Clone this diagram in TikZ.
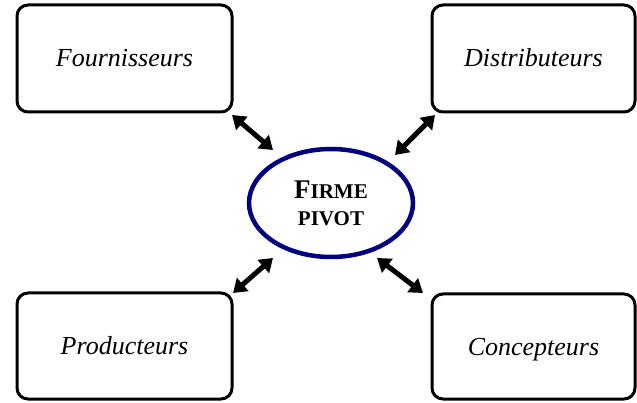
\documentclass[tikz,border=0pt]{standalone}
\usepackage{fontspec}
\setmainfont{Liberation Serif}
\usetikzlibrary{shapes.geometric,arrows.meta}
\definecolor{navyblue}{RGB}{0,0,128}
\tikzset{
  partner/.style={draw=black, line width=3pt, rounded corners=11pt, inner sep=0pt,
    text height=17pt, text depth=-3pt,
    font=\fontsize{26}{28}\selectfont\itshape},
  pivotnode/.style={draw=navyblue, ellipse, line width=4.5pt, inner sep=0pt,
    minimum width=164pt, minimum height=108pt, align=center,
    font=\fontsize{27}{30}\selectfont\bfseries},
  link/.style={line width=5pt, {Triangle[length=13pt,width=17pt]}-{Triangle[length=13pt,width=17pt]}}
}
\newcommand{\smc}[1]{{\fontsize{21}{24}\selectfont #1}}
\begin{document}
\begin{tikzpicture}[x=1pt,y=-1pt]
\useasboundingbox (0,0) rectangle (637,403);
\node[partner, minimum width=215pt, minimum height=107pt] (four) at (124.5,58.5) {Fournisseurs};
\node[partner, minimum width=203pt, minimum height=107pt] (dist) at (533.5,58.5) {Distributeurs};
\node[partner, minimum width=215pt, minimum height=106pt] (prod) at (124.5,346) {Producteurs};
\node[partner, minimum width=203pt, minimum height=105pt] (conc) at (533.5,346.5) {Concepteurs};
\node[pivotnode] (firme) at (331,203) {F\smc{IRME}\\[-3pt]\smc{PIVOT}};
\coordinate (tl1) at (232,115); \coordinate (tl2) at (273,150);
\coordinate (tr1) at (435,115); \coordinate (tr2) at (395,155);
\coordinate (bl1) at (273,258); \coordinate (bl2) at (233,293);
\coordinate (br1) at (377,258); \coordinate (br2) at (423,293);
\draw[link] (tl1) -- (tl2);
\draw[link] (tr1) -- (tr2);
\draw[link] (bl1) -- (bl2);
\draw[link] (br1) -- (br2);
\end{tikzpicture}
\end{document}
